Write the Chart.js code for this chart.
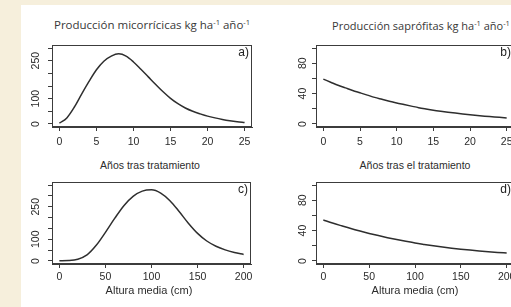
<!DOCTYPE html>
<html>
<head>
<meta charset="utf-8">
<script src="https://cdn.jsdelivr.net/npm/chart.js@4.4.1/dist/chart.umd.min.js"></script>
<style>
  html, body { margin: 0; padding: 0; }
  body { width: 511px; height: 307px; overflow: hidden; position: relative; background: #f6efdc; font-family: "Liberation Sans", Arial, sans-serif; color: #333; }
  #sheet { position: absolute; left: 21px; top: 5px; right: 0; bottom: 0; background: #fff; }
  canvas { position: absolute; }
  .lbl { position: absolute; white-space: nowrap; line-height: 1; transform: translate(-50%, -50%); }
  .ttl { font-family: "Open Sans", sans-serif; font-size: 11.5px; color: #383838; }
  .ttl sup { font-size: 7.5px; vertical-align: 4px; line-height: 0; }
  .axt { font-size: 10.5px; color: #2c2c2c; }
</style>
</head>
<body>
<div id="sheet"></div>

<div class="lbl ttl" style="left:152px;top:25px">Producción micorrícicas kg ha<sup>-1</sup> año<sup>-1</sup></div>
<div class="lbl ttl" style="left:421px;top:25px;font-size:11px">Producción saprófitas kg ha<sup>-1</sup> año<sup>-1</sup></div>

<canvas id="chartA" width="231" height="105" style="left:22px;top:44px"></canvas>
<canvas id="chartB" width="229" height="105" style="left:286px;top:44px"></canvas>
<canvas id="chartC" width="230" height="105" style="left:22px;top:181px"></canvas>
<canvas id="chartD" width="229" height="105" style="left:286px;top:181px"></canvas>

<div class="lbl axt" style="left:150px;top:165px">Años tras tratamiento</div>
<div class="lbl axt" style="left:415px;top:165px">Años tras el tratamiento</div>
<div class="lbl axt" style="left:149px;top:290px;font-size:11px">Altura media (cm)</div>
<div class="lbl axt" style="left:415px;top:290px;font-size:11px">Altura media (cm)</div>

<script>
// años tras tratamiento (paneles a y b)
const years = [0, 1, 2, 3, 4, 5, 6, 7, 8, 9, 10, 11, 12, 13, 14, 15, 16, 17, 18, 19, 20, 21, 22, 23, 24, 25];
const micorrYears = [3, 24, 66, 118, 168, 214, 248, 268, 277, 268, 245, 216, 186, 156, 127, 101, 80, 63, 50, 40, 31, 24, 18, 13, 9, 6];
const saproYears = [59, 55, 51, 47.5, 44, 41, 38, 35, 32.5, 30, 27.5, 25.5, 23.5, 21.5, 19.8, 18.2, 16.8, 15.5, 14.3, 13.2, 12.2, 11.2, 10.3, 9.5, 8.7, 8];

// altura media en cm (paneles c y d)
const heights = [0, 10, 20, 30, 40, 50, 60, 70, 80, 90, 100, 110, 120, 130, 140, 150, 160, 170, 180, 190, 200];
const micorrHeights = [1, 2, 8, 28, 72, 132, 196, 255, 298, 322, 328, 313, 278, 228, 174, 127, 92, 68, 51, 39, 30];
const saproHeights = [54, 50, 46.3, 42.7, 39.4, 36.3, 33.4, 30.7, 28.2, 25.9, 23.7, 21.8, 20, 18.4, 16.9, 15.5, 14.3, 13.2, 12.2, 11.3, 10.5];

// ticks
const yearTicks = [0, 5, 10, 15, 20, 25];
const heightTicks = [0, 50, 100, 150, 200];
const micorrTicksA = [0, 50, 100, 150, 200, 250, 300];
const micorrTicksC = [0, 50, 100, 150, 200, 250, 300, 350];
const micorrLabels = [0, 100, 250];
const saproTicks = [0, 20, 40, 60, 80, 100];
const saproLabels = [0, 40, 80];

const AXIS = "#3c3c3c";
const TICK_FONT = { family: '"Liberation Sans", Arial, sans-serif', size: 10.5 };

// recuadro del panel y letra (a), b), ...)
const frameTag = {
  id: "frameTag",
  afterDraw(chart, _args, opts) {
    const { ctx, chartArea: a } = chart;
    ctx.save();
    ctx.strokeStyle = AXIS;
    ctx.lineWidth = 1;
    ctx.strokeRect(Math.round(a.left) + 0.5, Math.round(a.top) + 0.5,
      Math.round(a.right - a.left) - 1, Math.round(a.bottom - a.top) - 1);
    ctx.fillStyle = "#222";
    ctx.font = '12px "Liberation Sans", Arial, sans-serif';
    ctx.textAlign = "right";
    ctx.textBaseline = "top";
    ctx.fillText(opts.tag, a.right - 3, a.top + 2);
    ctx.restore();
  }
};

function makePanel(canvasId, xs, ys, xTicks, yTicks, yLabels, xRange, yRange, tag, xPad) {
  return new Chart(document.getElementById(canvasId), {
    type: "line",
    data: {
      datasets: [{
        data: xs.map((x, i) => ({ x, y: ys[i] })),
        borderColor: "#2e2e2e",
        borderWidth: 1.5,
        pointRadius: 0,
        tension: 0.4,
        cubicInterpolationMode: "monotone",
        fill: false
      }]
    },
    options: {
      responsive: false,
      animation: false,
      events: [],
      layout: { padding: { top: 1, right: 1, left: 0, bottom: 0 } },
      plugins: {
        legend: { display: false },
        tooltip: { enabled: false },
        frameTag: { tag }
      },
      scales: {
        x: {
          type: "linear",
          min: xRange[0],
          max: xRange[1],
          afterBuildTicks: (s) => { s.ticks = xTicks.map((v) => ({ value: v })); },
          afterFit: (s) => { s.height = 22; s.paddingLeft = 0; s.paddingRight = 0; },
          grid: { drawOnChartArea: false, tickLength: 4, color: AXIS },
          border: { display: true, color: AXIS },
          ticks: { autoSkip: false, maxRotation: 0, padding: xPad, color: "#2a2a2a", font: TICK_FONT, callback: (v) => String(v) }
        },
        y: {
          type: "linear",
          min: yRange[0],
          max: yRange[1],
          afterBuildTicks: (s) => { s.ticks = yTicks.map((v) => ({ value: v })); },
          afterFit: (s) => { s.width = 30; s.paddingTop = 0; s.paddingBottom = 0; },
          grid: { drawOnChartArea: false, tickLength: 4, color: AXIS },
          border: { display: true, color: AXIS },
          ticks: {
            autoSkip: false,
            minRotation: 90,
            maxRotation: 90,
            crossAlign: "center",
            padding: 3,
            color: "#2a2a2a",
            font: TICK_FONT,
            callback: (v) => (yLabels.includes(v) ? String(v) : "")
          }
        }
      }
    },
    plugins: [frameTag]
  });
}

makePanel("chartA", years, micorrYears, yearTicks, micorrTicksA, micorrLabels, [-1, 26], [-12, 312], "a)", 5);
makePanel("chartB", years, saproYears, yearTicks, saproTicks, saproLabels, [-1, 26], [-4, 104], "b)", 5);
makePanel("chartC", heights, micorrHeights, heightTicks, micorrTicksC, micorrLabels, [-8, 208], [-14, 364], "c)", 3);
makePanel("chartD", heights, saproHeights, heightTicks, saproTicks, saproLabels, [-8, 208], [-4, 104], "d)", 3);
</script>
</body>
</html>
